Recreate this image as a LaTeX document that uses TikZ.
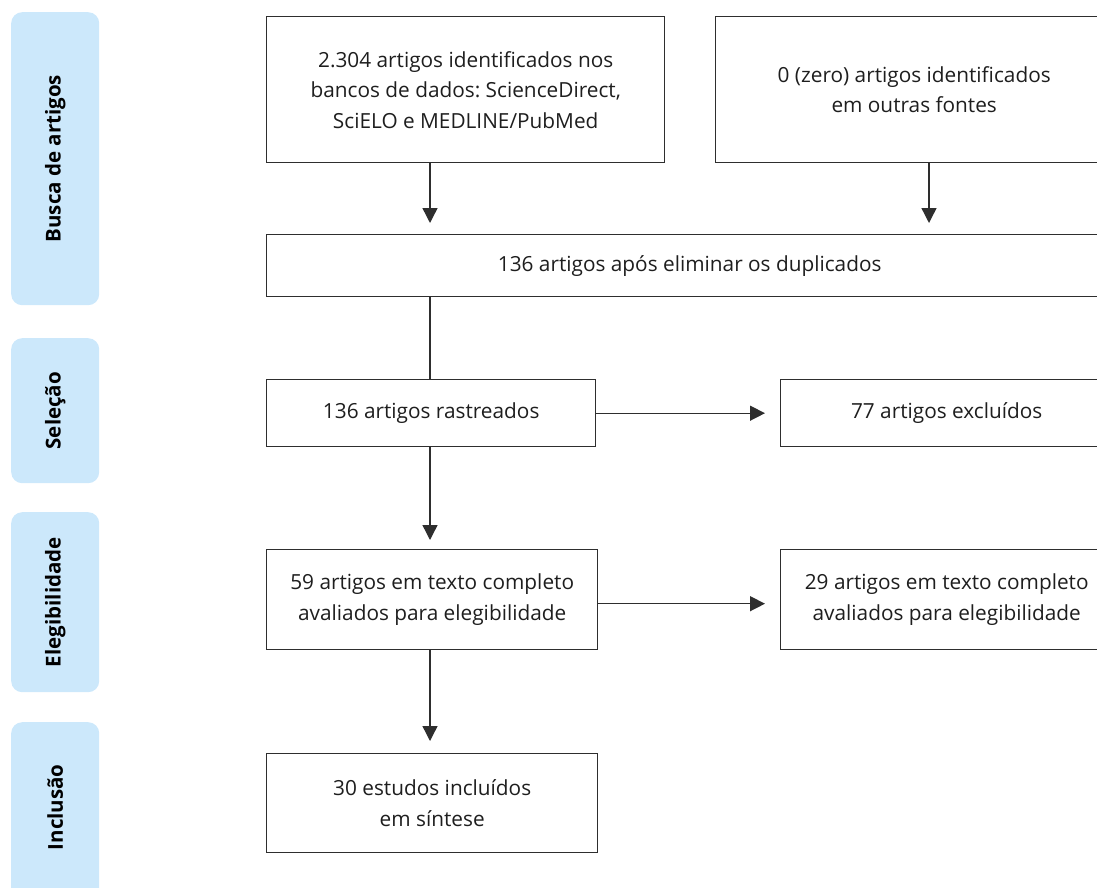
\documentclass[tikz,border=0pt]{standalone}
\usepackage{fontspec}
\setmainfont{Open Sans}
\newfontfamily\labelfont{Open Sans}
\frenchspacing
\usetikzlibrary{arrows.meta}
\definecolor{pill}{HTML}{CCE8FB}
\definecolor{linec}{HTML}{2E2E2E}
\definecolor{txt}{HTML}{1E1E1E}
\tikzset{
  box/.style={draw=linec, line width=1.4pt, rectangle, anchor=north west, align=center,
    text=txt, font=\fontsize{20.8}{30.5}\selectfont, inner sep=0pt},
  stage/.style={fill=pill, rounded corners=11pt, rectangle, anchor=north west, inner sep=0pt,
    minimum width=88pt},
  stagetext/.style={rotate=90, font=\labelfont\bfseries\fontsize{20.5}{22}\selectfont, text=black},
  arr/.style={draw=linec, line width=1.4pt, -{Triangle[length=15pt,width=15pt]}, shorten >=11pt},
  plain/.style={draw=linec, line width=1.4pt}
}
\begin{document}
\begin{tikzpicture}[x=1pt,y=-1pt]
\useasboundingbox (0,0) rectangle (1097,888);
\clip (0,0) rectangle (1097,888);
% stage pills
\node[stage, minimum height=293pt] (s1) at (11,12) {};
\node[stagetext] (t1) at (s1.center) {Busca de artigos};
\node[stage, minimum height=145pt] (s2) at (11,338) {};
\node[stagetext] (t2) at (s2.center) {Seleção};
\node[stage, minimum height=180pt] (s3) at (11,512) {};
\node[stagetext] (t3) at (s3.center) {Elegibilidade};
\node[stage, minimum height=190pt] (s4) at (11,722) {};
\node[stagetext] (t4) at ([yshift=10pt]s4.center) {Inclusão};
% boxes
\node[box, minimum width=398pt, minimum height=146pt] (b1) at (266,16)
  {2.304 artigos identificados nos\\bancos de dados: ScienceDirect,\\SciELO e MEDLINE/PubMed};
\node[box, minimum width=397pt, minimum height=146pt] (b2) at (715,16)
  {0 (zero) artigos identificados\\em outras fontes};
\node[box, minimum width=846pt, minimum height=62pt] (dup) at (266,234)
  {136 artigos após eliminar os duplicados};
\node[box, minimum width=329pt, minimum height=67pt] (ras) at (266,379)
  {136 artigos rastreados};
\node[box, minimum width=332pt, minimum height=67pt] (exc) at (780,379)
  {77 artigos excluídos};
\node[box, minimum width=331pt, minimum height=100pt] (ele) at (266,549)
  {59 artigos em texto completo\\avaliados para elegibilidade};
\node[box, minimum width=332pt, minimum height=100pt] (ele2) at (780,549)
  {29 artigos em texto completo\\avaliados para elegibilidade};
\node[box, minimum width=331pt, minimum height=99pt] (inc) at (266,753)
  {30 estudos incluídos\\em síntese};
% connectors
\coordinate (cx) at (430,0);
\coordinate (cx2) at (929,0);
\draw[arr] (b1.south -| cx) -- (dup.north -| cx);
\draw[arr] (b2.south -| cx2) -- (dup.north -| cx2);
\draw[plain] (dup.south -| cx) -- (ras.north -| cx);
\draw[arr, shorten >=15pt] (ras.east) -- (exc.west);
\draw[arr, shorten >=9pt] (ras.south -| cx) -- (ele.north -| cx);
\draw[arr, shorten >=15pt] ([yshift=-4pt]ele.east) -- ([yshift=-4pt]ele2.west);
\draw[arr, shorten >=12pt] (ele.south -| cx) -- (inc.north -| cx);
\end{tikzpicture}
\end{document}
